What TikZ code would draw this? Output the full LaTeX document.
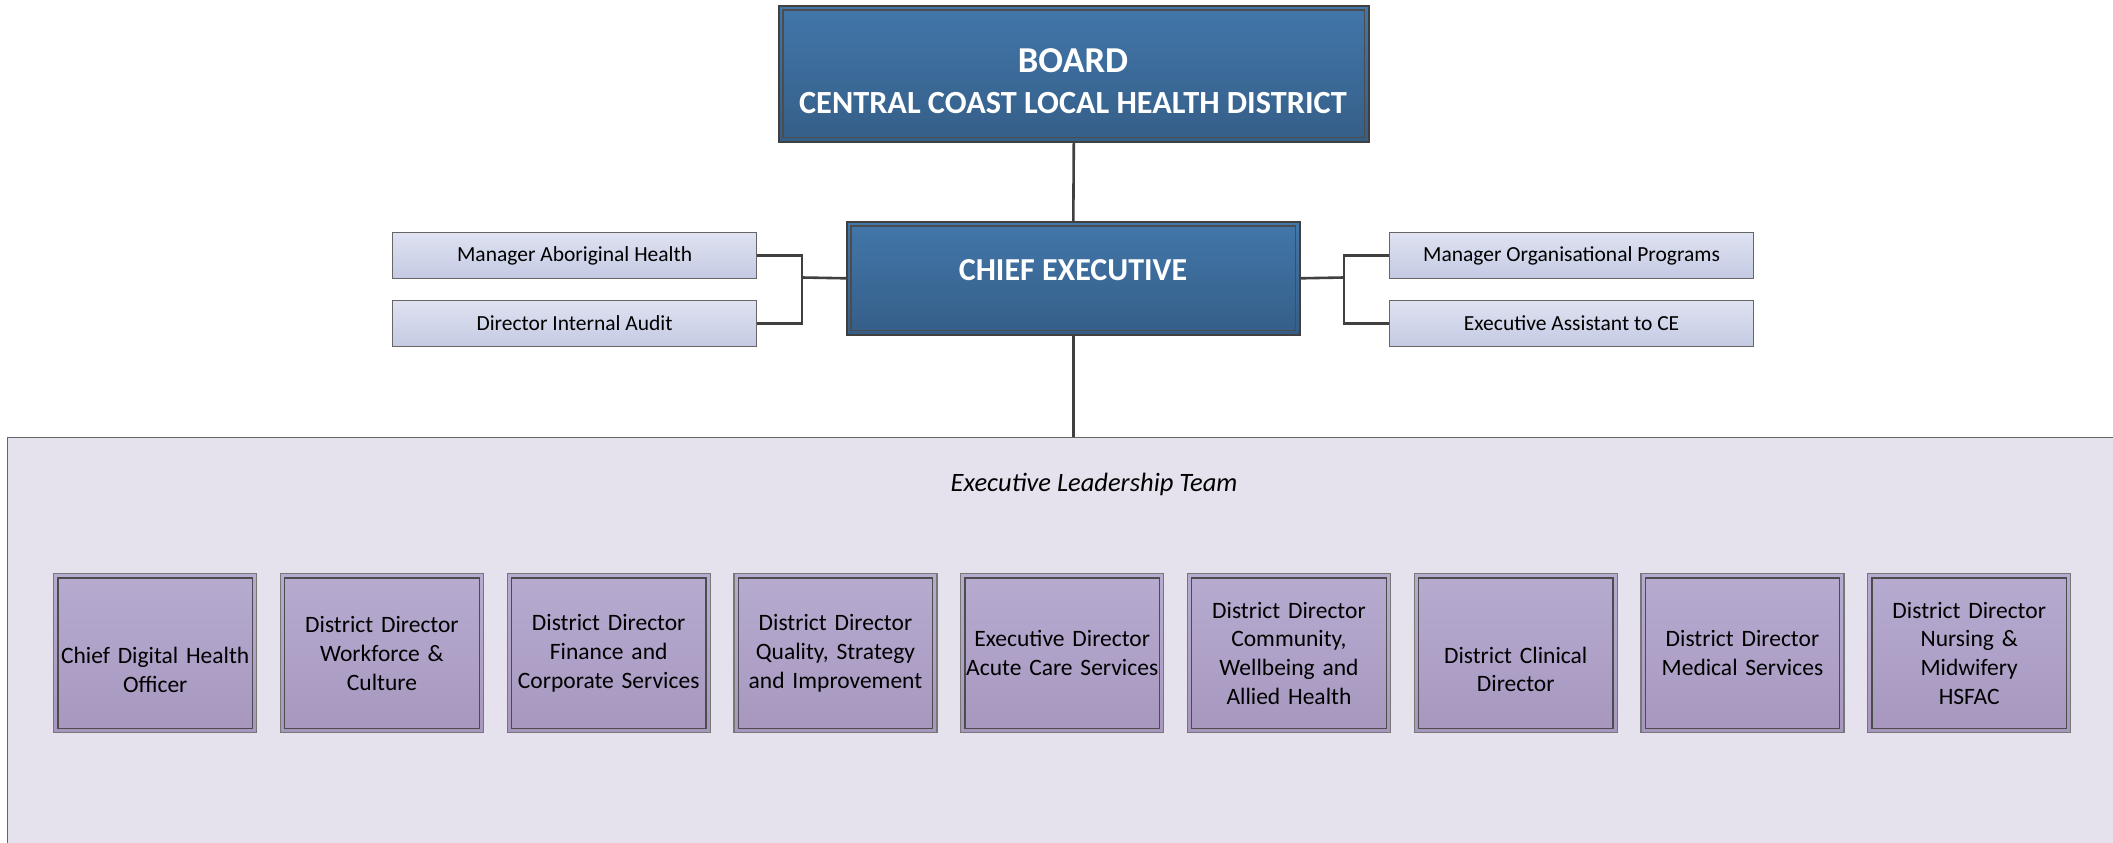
\documentclass[tikz,border=0pt]{standalone}
\usepackage{fontspec}
\setmainfont{Carlito}
\definecolor{blueT}{HTML}{4277AA}
\definecolor{blueB}{HTML}{355E88}
\definecolor{lavT}{HTML}{DEE2F1}
\definecolor{lavB}{HTML}{C4CAE3}
\definecolor{purT}{HTML}{B7ABD0}
\definecolor{purB}{HTML}{A797BF}
\definecolor{panel}{HTML}{E5E2EE}
\definecolor{edge}{HTML}{555555}
\definecolor{conncol}{HTML}{404040}
\begin{document}
\begin{tikzpicture}[x=1pt,y=-1pt,
  bluebox/.style={draw=black!75, line width=1.6pt, top color=blueT, bottom color=blueB, anchor=north west, inner sep=0pt},
  smallbox/.style={draw=edge!90, line width=1.2pt, top color=lavT, bottom color=lavB, anchor=north west, inner sep=0pt,
    minimum width=364pt, minimum height=46pt, font=\fontsize{21.5}{26}\selectfont, text=black},
  purbox/.style={draw=edge!80, line width=1.4pt, top color=purT, bottom color=purB, anchor=north west, inner sep=0pt,
    minimum width=203pt, minimum height=159pt, text width=198pt, align=center, font=\fontsize{23.5}{28.8}\selectfont, text=black},
  whitetxt/.style={text=white, font=\bfseries, inner sep=0pt},
  conn/.style={draw=conncol, line width=2.6pt},
  innerframe/.style={draw=black!70, line width=1.2pt}
]
\useasboundingbox (0,0) rectangle (2113,843);
\begin{scope}
\clip (0,0) rectangle (2113,843);
\fill[white] (0,0) rectangle (2113,843);
% panel
\node[draw=edge!90, line width=1.4pt, fill=panel, anchor=north west, inner sep=0pt,
  minimum width=2132pt, minimum height=440pt] (elt) at (7,437) {};
\end{scope}
\node[font=\itshape\fontsize{26.5}{30}\selectfont] (eltt) at (1094,484) {Executive Leadership Team};

% board
\node[bluebox, minimum width=590pt, minimum height=136pt] (board) at (778,5) {};
\draw[innerframe] ([shift={(5pt,-5pt)}]board.north west) rectangle ([shift={(-5pt,5pt)}]board.south east);
\node[whitetxt, font=\bfseries\fontsize{36.5}{40}\selectfont] (b1) at (1073,61) {BOARD};
\node[whitetxt, font=\bfseries\fontsize{32.3}{38}\selectfont] (b2) at (1073,103) {CENTRAL COAST LOCAL HEALTH DISTRICT};

% chief executive
\node[bluebox, minimum width=453pt, minimum height=113pt] (ce) at (846,221) {};
\draw[innerframe] ([shift={(5pt,-5pt)}]ce.north west) rectangle ([shift={(-5pt,5pt)}]ce.south east);
\node[whitetxt, font=\bfseries\fontsize{32}{38}\selectfont] (cet) at (1073,270) {CHIEF EXECUTIVE};

% side boxes
\node[smallbox] (mah) at (392,232) {Manager Aboriginal Health};
\node[smallbox] (dia) at (392,300) {Director Internal Audit};
\node[smallbox] (mop) at (1389,232) {Manager Organisational Programs};
\node[smallbox] (eac) at (1389,300) {Executive Assistant to CE};

\coordinate (jl) at (802,277.5);
\coordinate (jr) at (1344,277.5);
\draw[conn] (mah.east) -| (jl) |- (dia.east);
\draw[conn] (jl) -- (ce.west);
\draw[conn] (mop.west) -| (jr) |- (eac.west);
\draw[conn] (jr) -- (ce.east);
\draw[conn] (board.south) -- (ce.north);
\draw[conn] (ce.south) -- (ce.south |- elt.north);

% executive boxes
\foreach \i/\txt [count=\n] in {
  0/{\strut\\Chief Digital Health\\Officer},
  1/{District Director\\Workforce \&\\Culture},
  2/{District Director\\Finance and\\Corporate Services},
  3/{District Director\\Quality, Strategy\\and Improvement},
  4/{Executive Director\\Acute Care Services},
  5/{District Director\\Community,\\Wellbeing and\\Allied Health},
  6/{\strut\\District Clinical\\Director},
  7/{District Director\\Medical Services},
  8/{District Director\\Nursing \&\\Midwifery\\HSFAC}} {
  \node[purbox] (e\n) at ({53+226.75*\i},573) {\txt};
  \draw[innerframe] ([shift={(5pt,-5pt)}]e\n.north west) rectangle ([shift={(-5pt,5pt)}]e\n.south east);
}
\end{tikzpicture}
\end{document}
